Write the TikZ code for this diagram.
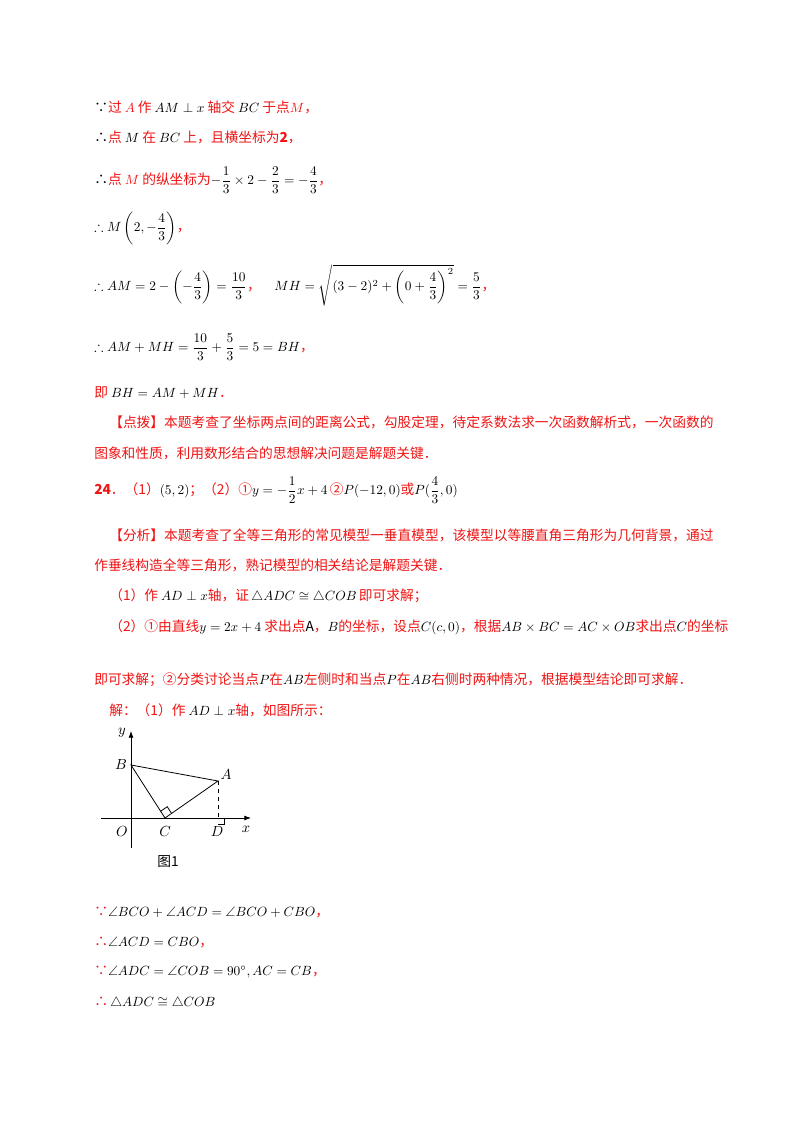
\documentclass[tikz,border=0pt]{standalone}
\usepackage{amsmath,amssymb}
\usepackage{fontspec}
\setmainfont{Noto Sans CJK SC}
\usetikzlibrary{arrows.meta,calc}
\definecolor{rd}{RGB}{240,20,20}
\newcommand{\R}[1]{\textcolor{rd}{#1}}
\begin{document}
\begin{tikzpicture}[x=0.75pt,y=-0.75pt,
  t/.style={anchor=west,inner sep=0pt,font=\fontsize{10.3}{12}\selectfont},
  ax/.style={line width=0.6pt,-{Latex[length=5pt]}},
  seg/.style={line width=0.6pt},
  lb/.style={inner sep=0pt,font=\fontsize{11}{12}\selectfont}]
\useasboundingbox[fill=white] (0,0) rectangle (800,1132);
\node[t] (l1) at (94,107) {∵\R{过 $A$ 作} $AM\perp x$ \R{轴交} $BC$ \R{于点$M$，}};
\node[t] (l2) at (94,137) {∴\R{点} $M$ \R{在} $BC$ \R{上，且横坐标为\textbf{2}，}};
\node[t] (l3) at (94,180) {∴\R{点 $M$ 的纵坐标为}$-\dfrac13\times2-\dfrac23=-\dfrac43$\R{，}};
\node[t] (l4) at (94,228) {$\therefore M\left(2,-\dfrac43\right)$\R{，}};
\node[t] (l5) at (94,285) {$\therefore AM=2-\left(-\dfrac43\right)=\dfrac{10}3$\R{，}\quad $MH=\sqrt{(3-2)^2+\left(0+\dfrac43\right)^2}=\dfrac53$\R{，}};
\node[t] (l6) at (94,347) {$\therefore AM+MH=\dfrac{10}3+\dfrac53=5=BH$\R{，}};
\node[t] (l7) at (94,393) {\R{即} $BH=AM+MH$\R{．}};
\node[t] (l8) at (109,422) {\R{【点拨】本题考查了坐标两点间的距离公式，勾股定理，待定系数法求一次函数解析式，一次函数的}};
\node[t] (l9) at (94,453) {\R{图象和性质，利用数形结合的思想解决问题是解题关键．}};
\node[t] (l10) at (94,490) {\R{\textbf{24}．（1）}$(5,2)$\R{；（2）①}$y=-\dfrac12x+4$\,\R{②}$P(-12,0)$\R{或}$P(\dfrac43,0)$};
\node[t] (l11) at (109,535) {\R{【分析】本题考查了全等三角形的常见模型一垂直模型，该模型以等腰直角三角形为几何背景，通过}};
\node[t] (l12) at (94,565) {\R{作垂线构造全等三角形，熟记模型的相关结论是解题关键．}};
\node[t] (l13) at (109,596) {\R{（1）作} $AD\perp x$\R{轴，证}\,$\triangle ADC\cong\triangle COB$\,\R{即可求解；}};
\node[t] (l14) at (109,627) {\R{（2）①由直线}$y=2x+4$ \R{求出点}A\R{，}$B$\R{的坐标，设点}$C(c,0)$\R{，根据}$AB\times BC=AC\times OB$\R{求出点}$C$\R{的坐标}};
\node[t] (l15) at (94,680) {\R{即可求解；②分类讨论当点}$P$\R{在}$AB$\R{左侧时和当点}$P$\R{在}$AB$\R{右侧时两种情况，根据模型结论即可求解．}};
\node[t] (l16) at (109,710) {\R{解：（1）作} $AD\perp x$\R{轴，如图所示：}};
% figure
\coordinate (ox1) at (101,818); \coordinate (ox2) at (251,818);
\coordinate (oy1) at (131,848); \coordinate (oy2) at (131,731);
\coordinate (B) at (131,765); \coordinate (A) at (218,781);
\coordinate (C) at (165,818); \coordinate (D) at (218,818);
\draw[ax] (ox1) -- (ox2);
\draw[ax] (oy1) -- (oy2);
\draw[seg] (B) -- (A) -- (C) -- cycle;
\draw[seg,dashed] (A) -- (D);
\draw[seg] ([xshift=5pt]D) -- ++(0,-5pt) -- ++(-5pt,0);
\draw[seg] ($(C)!6pt!(A)$) -- ($(C)!6pt!(A)+(C)!6pt!(B)-(C)$) -- ($(C)!6pt!(B)$);
\node[lb] (nO) at (122,831) {$O$};
\node[lb] (nC) at (165,831) {$C$};
\node[lb] (nD) at (217,831) {$D$};
\node[lb] (nx) at (246,829) {$x$};
\node[lb] (ny) at (122,733) {$y$};
\node[lb] (nB) at (121,765) {$B$};
\node[lb] (nA) at (226,775) {$A$};
\node[t] (cap) at (157,862) {图1};
\node[t] (m1) at (94,912) {\R{∵}$\angle BCO+\angle ACD=\angle BCO+CBO$\R{，}};
\node[t] (m2) at (94,942) {\R{∴}$\angle ACD=CBO$\R{，}};
\node[t] (m3) at (94,972) {\R{∵}$\angle ADC=\angle COB=90^\circ,AC=CB$\R{，}};
\node[t] (m4) at (94,1003) {\R{∴}\,$\triangle ADC\cong\triangle COB$};
\end{tikzpicture}
\end{document}
